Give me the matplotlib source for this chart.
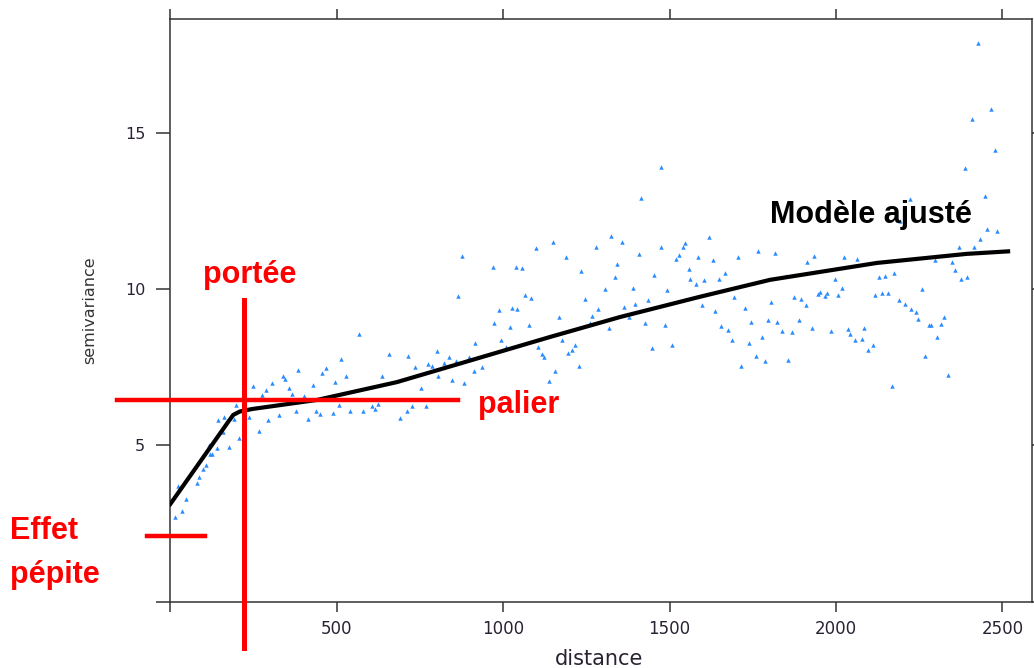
import matplotlib
matplotlib.use("Agg")
import matplotlib.pyplot as plt

# semivariogramme empirique (distance, semivariance)
dist = [14, 34, 47, 24, 79, 87, 99, 106, 119, 125, 139, 176, 115, 157, 207, 144, 162, 191, 197, 236,
        267, 293, 327, 249, 275, 287, 307, 340, 346, 358, 365, 384, 378, 403, 415, 430, 438, 450, 456, 468,
        494, 488, 508, 514, 527, 540, 567, 578, 605, 614, 623, 637, 657, 715, 735, 710, 725, 690, 753, 767,
        775, 786, 801, 805, 823, 837, 846, 858, 883, 897, 911, 916, 936, 864, 877, 968, 1038, 973, 988, 1026,
        1041, 1021, 994, 1008, 1058, 1098, 1149, 1189, 1066, 1085, 1078, 1169, 1233, 1247, 1279, 1324, 1357, 1343, 1337, 1305,
        1285, 1266, 1261, 1318, 1363, 1390, 1396, 1377, 1408, 1435, 1427, 1454, 1475, 1492, 1487, 1448, 1507, 1520, 1527, 1540,
        1547, 1557, 1562, 1176, 1216, 1208, 1196, 1104, 1116, 1124, 1228, 1156, 1138, 1617, 1584, 1630, 1707, 1765, 1818, 1578,
        1604, 1649, 1668, 1597, 1636, 1694, 1727, 1804, 1654, 1676, 1688, 1745, 1739, 1779, 1797, 1824, 1837, 1869, 1760, 1787,
        1714, 1855, 1875, 1895, 1909, 1889, 1927, 1914, 1934, 2024, 2063, 1998, 2018, 1946, 1952, 1967, 1973, 2006, 1850, 1986,
        2036, 2042, 2057, 2426, 2467, 2408, 2479, 2388, 2447, 2221, 2193, 2453, 2485, 2433, 2369, 2414, 2298, 2348, 2357, 2129,
        2148, 2174, 2376, 2395, 2116, 2137, 2156, 2188, 2207, 2225, 2240, 2246, 2259, 2279, 2285, 2316, 2325, 2304, 2083, 2078,
        2111, 2097, 2266, 2336, 2168, 1415, 1475]
gamma = [2.72, 2.91, 3.29, 3.71, 3.79, 4.00, 4.23, 4.37, 4.72, 4.72, 4.92, 4.94, 5.01, 5.42, 5.23, 5.81, 5.91, 5.84, 6.28, 5.92,
         5.47, 5.81, 5.96, 6.89, 6.60, 6.78, 6.98, 7.20, 7.13, 6.83, 6.64, 7.41, 6.11, 6.58, 5.84, 6.94, 6.11, 6.00, 7.32, 7.46,
         7.03, 6.04, 6.28, 7.77, 7.23, 6.11, 8.55, 6.10, 6.24, 6.17, 6.31, 7.20, 7.91, 7.87, 7.50, 6.11, 6.26, 5.87, 6.84, 6.26,
         7.59, 7.52, 8.02, 7.20, 7.64, 7.83, 7.09, 7.68, 6.99, 7.82, 7.38, 8.26, 7.50, 9.78, 11.06, 10.71, 10.71, 8.90, 9.31, 9.40,
         9.35, 8.79, 8.37, 8.15, 10.66, 11.30, 11.50, 11.01, 9.79, 9.72, 8.85, 9.09, 10.58, 9.69, 11.35, 11.70, 11.50, 10.78, 10.37, 9.99,
         9.35, 9.14, 8.92, 8.75, 9.43, 10.03, 9.53, 9.09, 11.12, 9.65, 8.91, 10.43, 11.35, 9.95, 8.85, 8.12, 8.22, 10.95, 11.08, 11.35,
         11.46, 10.63, 10.32, 8.37, 8.21, 8.05, 7.95, 8.15, 7.91, 7.82, 7.54, 7.38, 7.04, 11.65, 11.01, 10.91, 11.01, 11.22, 11.16, 10.16,
         10.27, 10.33, 10.52, 9.49, 9.29, 9.73, 9.38, 9.58, 8.82, 8.69, 8.37, 8.95, 8.26, 8.46, 9.00, 8.94, 8.65, 8.62, 7.87, 7.68,
         7.52, 7.73, 9.75, 9.69, 9.50, 9.00, 8.74, 10.85, 11.06, 11.01, 10.97, 10.33, 10.04, 9.84, 9.91, 9.78, 9.88, 9.79, 10.42, 8.66,
         8.71, 8.55, 8.37, 17.86, 15.76, 15.43, 14.45, 13.85, 12.97, 12.87, 12.18, 11.93, 11.85, 11.59, 11.35, 11.35, 10.91, 10.85, 10.61, 10.37,
         10.42, 10.52, 10.33, 10.37, 9.79, 9.88, 9.88, 9.63, 9.52, 9.35, 9.27, 9.05, 9.99, 8.85, 8.84, 8.89, 9.09, 8.46, 8.76, 8.41,
         8.22, 8.06, 7.84, 7.24, 6.90, 12.90, 13.90]

# modèle ajusté
model_d = [0, 172, 189, 209, 246, 441, 681, 1140, 1351, 1592, 1802, 2123, 2393, 2517]
model_g = [3.12, 5.72, 5.97, 6.08, 6.16, 6.45, 7.02, 8.46, 9.10, 9.75, 10.29, 10.83, 11.12, 11.20]

# repères du variogramme
portee = 222
palier = 6.45
pepite = 2.10

xticks = [0, 500, 1000, 1500, 2000, 2500]
xticklabels = ['', '500', '1000', '1500', '2000', '2500']
yticks = [0, 5, 10, 15]
yticklabels = ['', '5', '10', '15']

fig = plt.figure(figsize=(10.34, 6.68), dpi=100)
ax = fig.add_axes([0.1647, 0.0993, 0.8331, 0.8723])

ax.plot(dist, gamma, '^', color='#2b8cff', markersize=3.2, markeredgewidth=0)
ax.plot(model_d, model_g, '-', color='black', linewidth=3, solid_joinstyle='round', zorder=3)

ax.set_xlim(0, 2588)
ax.set_ylim(0, 18.63)

# cadre et graduations façon lattice
for s in ax.spines.values():
    s.set_color('#333333')
    s.set_linewidth(1.1)
ax.set_xticks(xticks)
ax.set_xticklabels(xticklabels)
ax.set_yticks(yticks)
ax.set_yticklabels(yticklabels)
ax.tick_params(axis='x', which='both', direction='out', length=7.5, width=1.1, color='#333333',
               top=True, labeltop=False, pad=6, labelsize=12, labelcolor='#2a2233')
ax.tick_params(axis='y', which='both', direction='out', length=10, width=1.1, color='#333333',
               right=True, labelright=False, pad=8, labelsize=11.5, labelcolor='#2a2233')

ax.set_xlabel('distance', fontsize=15, color='#2a2233')
ax.xaxis.set_label_coords(0.498, -0.081)
ax.set_ylabel('semivariance', fontsize=11.5, color='#333333')
ax.yaxis.set_label_coords(-0.085, 0.50)

# annotations en rouge
red = '#ff0000'
ax.plot([portee, portee], [9.65, -1.48], color=red, linewidth=3.6, clip_on=False, zorder=4)
ax.plot([-161, 865], [palier, palier], color=red, linewidth=3.2, clip_on=False, zorder=4)
ax.plot([-70, 104], [pepite, pepite], color=red, linewidth=3.2, clip_on=False, zorder=4)

bold = dict(family='Liberation Sans', fontweight='bold', fontsize=22)
fig.text(203 / 1034, 1 - 283 / 668, 'portée', color=red, va='baseline', ha='left', **bold)
fig.text(478 / 1034, 1 - 413 / 668, 'palier', color=red, va='baseline', ha='left', **bold)
fig.text(10 / 1034, 1 - 539 / 668, 'Effet', color=red, va='baseline', ha='left', **bold)
fig.text(10 / 1034, 1 - 583 / 668, 'pépite', color=red, va='baseline', ha='left', **bold)
fig.text(770 / 1034, 1 - 222.7 / 668, 'Modèle ajusté', color='black', va='baseline', ha='left', **bold)

fig.savefig('out.png', dpi=100)
